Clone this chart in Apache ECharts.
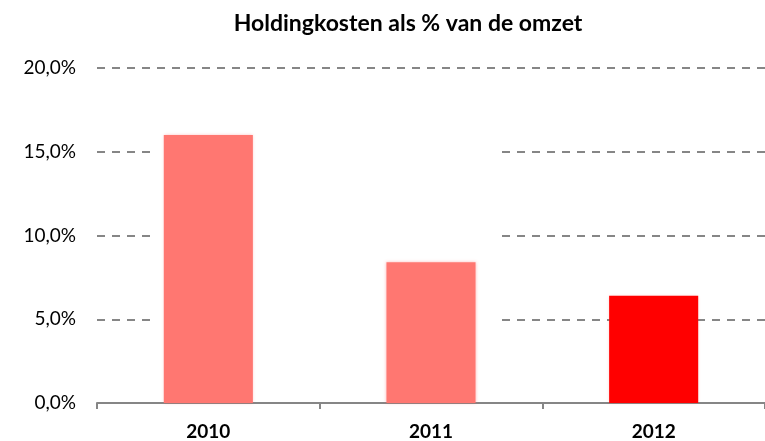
<!DOCTYPE html>
<html>
<head>
<meta charset="utf-8">
<script src="https://cdn.jsdelivr.net/npm/echarts@6/dist/echarts.min.js"></script>
<style>
  html, body { margin: 0; padding: 0; background: #fff; }
  #chart { width: 765px; height: 441px; }
</style>
</head>
<body>
<div id="chart"></div>
<script>
const years = ['2010', '2011', '2012']
const kosten = [16.0, 8.4, 6.4]
const barColors = ['#FF7771', '#FF7771', '#FF0000']
const yTicks = [0, 5, 10, 15, 20]

const fmt = (v) => v.toFixed(1).replace('.', ',') + '%'
const font = 'Lato, "Noto Sans", sans-serif'

const chart = echarts.init(document.getElementById('chart'))
chart.setOption({
  animation: false,
  title: {
    text: 'Holdingkosten als % van de omzet',
    left: 403,
    textAlign: 'center',
    top: 7,
    textStyle: { fontFamily: font, fontSize: 23, fontWeight: 'bold', color: '#000' }
  },
  grid: { left: 97, top: 68, width: 672, height: 335 },
  // white block in the original hides the middle part of the gridlines
  graphic: [{
    type: 'rect',
    z: 1,
    shape: { x: 153, y: 140, width: 342, height: 190 },
    style: { fill: '#fff' }
  }],
  xAxis: {
    type: 'category',
    data: years,
    axisLine: { lineStyle: { color: '#868686', width: 2 } },
    axisTick: { show: true, length: 6, lineStyle: { color: '#868686', width: 2 } },
    axisLabel: { fontFamily: font, fontSize: 19, fontWeight: 'bold', color: '#000', margin: 19 }
  },
  yAxis: {
    type: 'value',
    min: yTicks[0],
    max: yTicks[yTicks.length - 1],
    interval: 5,
    axisLine: { show: false },
    axisTick: { show: false },
    axisLabel: { fontFamily: font, fontSize: 19, color: '#000', margin: 21, formatter: fmt },
    splitLine: { lineStyle: { color: '#868686', width: 2, type: [8, 7] } }
  },
  series: [{
    type: 'bar',
    z: 2,
    barWidth: '40%',
    data: kosten.map((v, i) => ({
      value: v,
      itemStyle: { color: barColors[i], shadowBlur: 3, shadowColor: 'rgba(255,80,80,0.35)' }
    }))
  }]
})
</script>
</body>
</html>
